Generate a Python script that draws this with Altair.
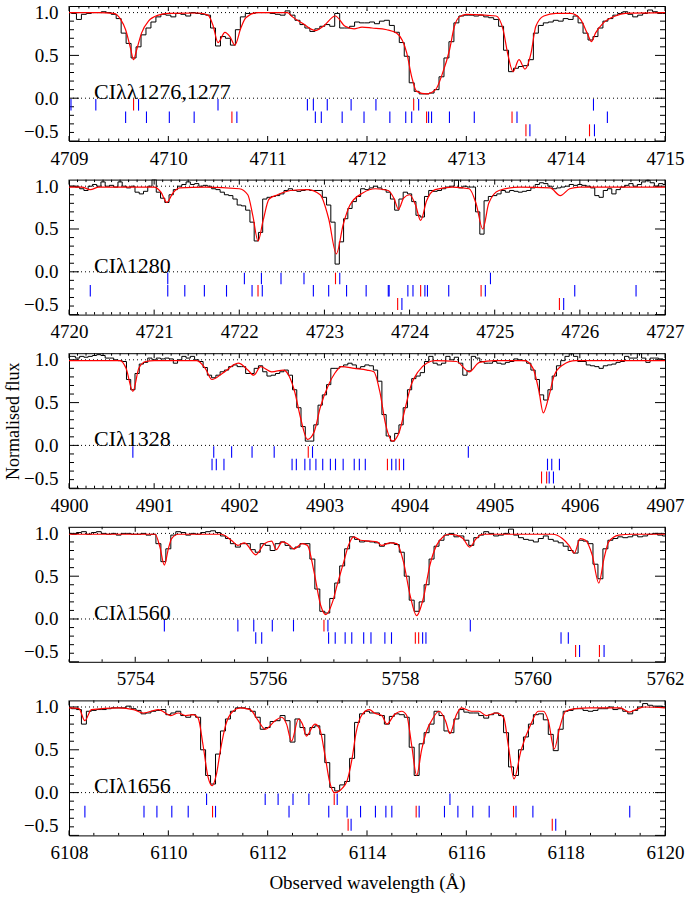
import altair as alt
import numpy as np
import pandas as pd

FONT = "Liberation Serif"
W, H = 596, 135
Y_DOMAIN = [-0.5, 1.077]
ROW_TOP = [-0.01, -0.155, -0.305]
ROW_BOT = [-0.145, -0.29, -0.445]
Y_LABELS = [-0.5, 0.0, 0.5, 1.0]

# ---------------- Panel 1 : CI 1276,1277 ----------------
P1_RANGE = [4709, 4715]
P1_LABEL = "CIλλ1276,1277"
P1_XLABELS = [4709, 4710, 4711, 4712, 4713, 4714, 4715]
P1_FLUX = [
    1.00, 0.99, 0.92, 0.98, 0.99, 1.00, 1.00, 1.01, 1.00, 0.98, 0.93, 0.76, 0.64, 0.47, 0.60, 0.74, 0.82, 0.89, 0.95, 0.98,
    0.97, 0.95, 0.99, 0.98, 0.96, 1.00, 0.99, 0.98, 0.97, 0.82, 0.61, 0.72, 0.70, 0.62, 0.80, 0.95, 0.99, 0.99, 1.00, 1.00,
    1.00, 0.99, 0.98, 0.97, 1.02, 0.97, 0.91, 0.86, 0.82, 0.78, 0.81, 0.84, 0.86, 0.84, 0.99, 0.82, 0.82, 0.84, 0.89, 0.88,
    0.88, 0.89, 0.87, 0.90, 0.91, 0.85, 0.77, 0.65, 0.49, 0.18, 0.08, 0.05, 0.05, 0.06, 0.10, 0.25, 0.47, 0.66, 0.88, 0.96,
    0.97, 0.97, 0.96, 0.97, 0.95, 0.94, 0.92, 0.84, 0.56, 0.31, 0.35, 0.37, 0.38, 0.45, 0.76, 0.85, 0.88, 0.89, 0.91, 0.90,
    0.93, 0.92, 0.96, 0.88, 0.76, 0.68, 0.72, 0.82, 0.90, 0.93, 0.97, 0.99, 1.01, 0.98, 0.95, 0.97, 0.99, 1.03, 1.01, 0.99, 0.99,
]
P1_MODEL = [
    (4709.0, 1.0), (4709.3, 1.0), (4709.45, 0.99), (4709.52, 0.92), (4709.57, 0.80), (4709.62, 0.58),
    (4709.65, 0.45), (4709.68, 0.56), (4709.73, 0.76), (4709.8, 0.90), (4709.9, 0.97), (4710.0, 0.99),
    (4710.3, 0.995), (4710.4, 0.97), (4710.45, 0.85), (4710.5, 0.65), (4710.57, 0.77), (4710.62, 0.72),
    (4710.67, 0.62), (4710.73, 0.82), (4710.78, 0.94), (4710.9, 1.0), (4711.2, 1.0), (4711.25, 0.95),
    (4711.35, 0.875), (4711.48, 0.79), (4711.57, 0.85), (4711.68, 0.96), (4711.78, 0.84), (4711.87, 0.81),
    (4711.95, 0.83), (4712.05, 0.82), (4712.2, 0.80), (4712.3, 0.76), (4712.4, 0.53), (4712.45, 0.25),
    (4712.5, 0.08), (4712.6, 0.05), (4712.69, 0.10), (4712.76, 0.29), (4712.83, 0.56), (4712.88, 0.84),
    (4712.93, 0.95), (4713.0, 0.98), (4713.3, 0.96), (4713.37, 0.80), (4713.42, 0.50), (4713.47, 0.31),
    (4713.53, 0.45), (4713.59, 0.34), (4713.65, 0.52), (4713.7, 0.84), (4713.78, 0.96), (4713.9, 0.99),
    (4714.05, 0.99), (4714.15, 0.92), (4714.22, 0.75), (4714.26, 0.66), (4714.3, 0.76), (4714.38, 0.88),
    (4714.5, 0.96), (4714.6, 0.99), (4715.0, 1.0),
]
P1_BLUE = [
    [4709.02, 4709.27, 4709.70, 4710.50, 4711.40, 4711.46, 4711.60, 4711.84, 4712.09, 4712.52, 4714.28],
    [4709.57, 4709.78, 4710.01, 4710.26, 4710.69, 4711.48, 4711.54, 4711.75, 4711.97, 4712.23, 4712.39,
     4712.45, 4712.62, 4712.65, 4712.83, 4713.08, 4713.51, 4714.42],
    [4713.64, 4714.29],
]
P1_RED = [[4709.65, 4712.47], [4710.64, 4712.60, 4713.46], [4713.60, 4714.24]]

# ---------------- Panel 2 : CI 1280 ----------------
P2_RANGE = [4720, 4727]
P2_LABEL = "CIλ1280"
P2_XLABELS = [4720, 4721, 4722, 4723, 4724, 4725, 4726, 4727]
P2_FLUX = [
    1.00, 1.00, 0.99, 0.97, 0.95, 1.00, 1.02, 1.00, 1.05, 1.00, 1.01, 0.99, 1.05, 1.00, 0.98, 1.00, 0.93, 0.91, 0.94, 1.00,
    1.08, 0.93, 0.86, 0.81, 0.90, 0.96, 1.00, 1.02, 1.05, 1.02, 1.03, 1.00, 1.01, 1.00, 0.97, 0.96, 0.93, 0.90, 0.89, 0.85,
    0.78, 0.77, 0.72, 0.58, 0.36, 0.46, 0.85, 0.87, 0.88, 0.89, 0.91, 0.95, 0.97, 0.95, 0.94, 0.95, 0.96, 0.95, 0.95, 0.95,
    0.87, 0.78, 0.58, 0.09, 0.35, 0.62, 0.74, 0.82, 0.88, 0.97, 0.96, 0.98, 1.00, 0.98, 0.96, 0.93, 0.85, 0.72, 0.85, 0.93,
    0.91, 0.82, 0.66, 0.64, 0.88, 0.95, 0.94, 0.95, 0.97, 0.99, 1.00, 1.07, 0.98, 1.00, 0.99, 0.99, 0.70, 0.44, 0.83, 0.88,
    0.89, 0.91, 0.95, 0.93, 0.95, 0.94, 0.93, 0.94, 0.95, 0.98, 1.02, 1.04, 1.03, 1.00, 0.97, 0.98, 0.99, 1.00, 1.02, 1.01,
    1.02, 1.01, 1.00, 0.98, 0.89, 0.87, 0.95, 0.97, 0.91, 0.96, 0.99, 1.01, 1.03, 1.00, 1.02, 1.05, 1.07, 1.04, 1.00, 1.03, 1.02,
]
P2_MODEL = [
    (4720.0, 0.99), (4720.15, 0.99), (4720.25, 0.96), (4720.35, 0.99), (4721.0, 0.99), (4721.08, 0.93),
    (4721.15, 0.81), (4721.22, 0.92), (4721.3, 0.98), (4721.6, 0.99), (4722.0, 0.97), (4722.1, 0.90),
    (4722.16, 0.65), (4722.22, 0.36), (4722.28, 0.60), (4722.35, 0.85), (4722.45, 0.90), (4722.6, 0.95),
    (4722.8, 0.96), (4722.95, 0.90), (4723.05, 0.62), (4723.14, 0.21), (4723.22, 0.55), (4723.3, 0.78),
    (4723.45, 0.92), (4723.6, 0.97), (4723.75, 0.95), (4723.82, 0.85), (4723.87, 0.73), (4723.93, 0.86),
    (4724.0, 0.90), (4724.07, 0.78), (4724.13, 0.60), (4724.2, 0.83), (4724.3, 0.96), (4724.5, 0.99),
    (4724.7, 0.97), (4724.78, 0.80), (4724.86, 0.50), (4724.93, 0.80), (4725.05, 0.95), (4725.3, 0.99),
    (4725.65, 0.98), (4725.77, 0.89), (4725.88, 0.97), (4726.0, 0.99), (4727.0, 0.99),
]
P2_BLUE = [
    [4721.16, 4722.06, 4722.26, 4722.49, 4722.76, 4723.18, 4724.95],
    [4720.25, 4721.16, 4721.36, 4721.59, 4721.85, 4722.15, 4722.27, 4722.87, 4723.05, 4723.26, 4723.49,
     4723.75, 4723.76, 4723.98, 4724.04, 4724.18, 4724.21, 4724.46, 4724.89, 4725.94, 4726.66],
    [4723.91, 4725.81],
]
P2_RED = [[4723.13], [4722.22, 4724.13, 4724.84], [4723.86, 4725.76]]

# ---------------- Panel 3 : CI 1328 ----------------
P3_RANGE = [4900, 4907]
P3_LABEL = "CIλ1328"
P3_XLABELS = [4900, 4901, 4902, 4903, 4904, 4905, 4906, 4907]
P3_FLUX = [
    1.04, 1.04, 1.02, 1.04, 1.03, 1.04, 1.05, 1.06, 1.05, 1.02, 1.02, 1.00, 0.99, 0.98, 0.77, 0.65, 0.84, 0.95, 0.97, 1.02,
    1.00, 1.02, 1.01, 1.02, 1.01, 0.96, 1.00, 1.04, 1.02, 1.04, 1.00, 0.98, 0.91, 0.82, 0.79, 0.82, 0.86, 0.88, 0.92, 0.94,
    0.92, 0.92, 0.84, 0.84, 0.90, 0.93, 0.86, 0.81, 0.82, 0.84, 0.86, 0.88, 0.82, 0.65, 0.44, 0.22, 0.05, 0.05, 0.24, 0.47,
    0.59, 0.71, 0.90, 0.90, 0.92, 0.94, 0.96, 0.94, 0.90, 0.92, 0.94, 0.93, 0.88, 0.75, 0.36, 0.11, 0.05, 0.14, 0.24, 0.44,
    0.65, 0.78, 0.81, 0.85, 0.98, 1.04, 0.96, 0.94, 0.96, 1.04, 1.00, 1.03, 0.96, 0.82, 0.87, 1.04, 1.02, 0.98, 0.96, 0.96,
    0.98, 0.96, 0.95, 0.97, 0.98, 1.01, 1.00, 0.99, 0.96, 0.88, 0.77, 0.59, 0.53, 0.65, 0.81, 0.93, 0.99, 1.04, 1.07, 1.04,
    0.98, 0.98, 0.94, 0.93, 0.92, 0.90, 0.93, 0.94, 0.95, 0.97, 0.98, 1.04, 1.02, 1.02, 1.08, 1.02, 0.97, 1.02, 1.02, 1.01, 1.00,
]
P3_MODEL = [
    (4900.0, 0.99), (4900.6, 0.99), (4900.67, 0.90), (4900.75, 0.63), (4900.82, 0.90), (4900.9, 0.98),
    (4901.0, 0.99), (4901.5, 0.99), (4901.6, 0.90), (4901.68, 0.77), (4901.8, 0.84), (4901.99, 0.96),
    (4902.1, 0.88), (4902.17, 0.82), (4902.25, 0.92), (4902.38, 0.86), (4902.52, 0.88), (4902.58, 0.82),
    (4902.65, 0.63), (4902.72, 0.32), (4902.8, 0.07), (4902.88, 0.16), (4902.95, 0.44), (4903.05, 0.71),
    (4903.12, 0.84), (4903.2, 0.92), (4903.35, 0.90), (4903.5, 0.88), (4903.58, 0.86), (4903.65, 0.63),
    (4903.72, 0.24), (4903.8, 0.05), (4903.88, 0.16), (4903.95, 0.44), (4904.02, 0.71), (4904.1, 0.86),
    (4904.2, 0.96), (4904.3, 0.99), (4904.55, 0.98), (4904.7, 0.86), (4904.82, 0.97), (4905.0, 0.99),
    (4905.35, 0.99), (4905.45, 0.90), (4905.52, 0.63), (4905.57, 0.38), (4905.63, 0.55), (4905.7, 0.82),
    (4905.8, 0.94), (4905.95, 0.99), (4907.0, 0.99),
]
P3_BLUE = [
    [4900.75, 4901.70, 4901.91, 4902.15, 4902.41, 4902.86, 4904.69],
    [4901.68, 4901.73, 4901.82, 4902.62, 4902.67, 4902.77, 4902.83, 4902.90, 4902.98, 4903.07, 4903.13,
     4903.22, 4903.35, 4903.41, 4903.48, 4903.79, 4903.84, 4903.93, 4905.62, 4905.67, 4905.76],
    [4905.64, 4905.69],
]
P3_RED = [[4902.81], [4903.74, 4903.88], [4905.55, 4905.61]]

# ---------------- Panel 4 : CI 1560 ----------------
P4_RANGE = [5753, 5762]
P4_LABEL = "CIλ1560"
P4_XLABELS = [5754, 5756, 5758, 5760, 5762]
P4_FLUX = [
    1.00, 0.99, 1.01, 1.02, 0.99, 1.01, 1.02, 1.00, 0.99, 1.00, 0.98, 1.00, 1.00, 0.99, 0.99, 1.00, 0.98, 0.99,
    0.88, 0.67, 0.82, 0.98, 1.02, 1.01, 0.98, 1.00, 0.99, 1.01, 1.02, 1.03, 1.01, 0.97, 0.94, 0.88, 0.84, 0.88,
    0.88, 0.81, 0.78, 0.88, 0.86, 0.80, 0.88, 0.90, 0.86, 0.82, 0.84, 0.88, 0.88, 0.70, 0.35, 0.09, 0.07, 0.24,
    0.42, 0.62, 0.82, 0.96, 0.93, 0.90, 0.91, 0.90, 0.89, 0.85, 0.88, 0.89, 0.87, 0.78, 0.50, 0.22, 0.09, 0.20,
    0.40, 0.70, 0.85, 0.92, 0.98, 1.00, 0.96, 0.97, 0.92, 0.86, 0.95, 0.98, 1.02, 1.00, 0.97, 0.98, 1.00, 1.05,
    0.98, 0.95, 0.93, 0.92, 0.90, 0.94, 0.97, 0.93, 0.91, 0.89, 0.85, 0.80, 0.77, 0.92, 0.91, 0.88, 0.64, 0.47,
    0.82, 0.92, 0.94, 0.96, 0.95, 0.96, 0.98, 0.96, 0.97, 0.99, 1.00, 0.98, 0.97,
]
P4_MODEL = [
    (5753.0, 0.99), (5754.3, 0.99), (5754.37, 0.85), (5754.44, 0.63), (5754.5, 0.82), (5754.55, 0.94),
    (5754.65, 0.99), (5755.3, 0.99), (5755.45, 0.92), (5755.55, 0.86), (5755.65, 0.89), (5755.82, 0.75),
    (5755.95, 0.88), (5756.06, 0.91), (5756.13, 0.81), (5756.22, 0.90), (5756.3, 0.88), (5756.4, 0.82),
    (5756.52, 0.88), (5756.6, 0.86), (5756.7, 0.55), (5756.8, 0.16), (5756.88, 0.05), (5756.98, 0.20),
    (5757.05, 0.40), (5757.15, 0.67), (5757.22, 0.86), (5757.3, 0.96), (5757.4, 0.92), (5757.55, 0.91),
    (5757.65, 0.90), (5757.72, 0.86), (5757.85, 0.89), (5757.95, 0.88), (5758.05, 0.67), (5758.15, 0.28),
    (5758.25, 0.04), (5758.35, 0.24), (5758.45, 0.63), (5758.55, 0.86), (5758.65, 0.96), (5758.72, 0.99),
    (5758.85, 0.98), (5758.95, 0.94), (5759.05, 0.84), (5759.15, 0.94), (5759.25, 0.99), (5760.3, 0.99),
    (5760.45, 0.94), (5760.55, 0.86), (5760.63, 0.77), (5760.72, 0.94), (5760.8, 0.92), (5760.9, 0.75),
    (5761.0, 0.42), (5761.08, 0.71), (5761.15, 0.90), (5761.3, 0.98), (5761.5, 0.99), (5762.0, 0.99),
]
P4_BLUE = [
    [5754.44, 5755.55, 5755.79, 5756.07, 5756.39, 5756.91, 5759.06],
    [5755.82, 5755.91, 5756.92, 5757.02, 5757.17, 5757.27, 5757.45, 5757.56, 5757.77, 5757.87, 5758.34,
     5758.39, 5760.43, 5760.54],
    [5760.71, 5761.08],
]
P4_RED = [[5756.85], [5758.23, 5758.28], [5760.65, 5761.01]]

# ---------------- Panel 5 : CI 1656 ----------------
P5_RANGE = [6108, 6120]
P5_LABEL = "CIλ1656"
P5_XLABELS = [6108, 6110, 6112, 6114, 6116, 6118, 6120]
P5_FLUX = [
    0.99, 0.98, 0.97, 0.80, 0.95, 0.96, 0.97, 0.97, 0.98, 0.99,
    0.99, 0.99, 1.01, 0.98, 0.96, 0.92, 0.93, 0.95, 0.96, 0.97,
    0.91, 0.93, 0.95, 0.90, 0.88, 0.91, 0.88, 0.50, 0.20, 0.10,
    0.45, 0.72, 0.86, 0.95, 0.99, 0.99, 0.98, 0.95, 0.88, 0.74,
    0.76, 0.83, 0.84, 0.90, 0.84, 0.59, 0.86, 0.76, 0.68, 0.76,
    0.78, 0.68, 0.35, 0.06, 0.02, 0.09, 0.13, 0.40, 0.82, 0.92,
    0.95, 0.93, 0.93, 0.90, 0.80, 0.89, 0.92, 0.91, 0.88, 0.53,
    0.20, 0.57, 0.70, 0.80, 0.95, 0.90, 0.72, 0.70, 0.86, 0.97,
    0.94, 0.93, 0.93, 0.90, 0.87, 0.91, 0.93, 0.90, 0.70, 0.30,
    0.20, 0.50, 0.65, 0.80, 0.91, 0.92, 0.85, 0.68, 0.49, 0.74,
    0.95, 0.96, 0.98, 0.98, 0.96, 0.95, 0.96, 0.98, 0.98, 1.00,
    0.97, 0.98, 0.95, 0.92, 0.96, 1.00, 1.04, 1.02, 1.01, 1.01, 1.00,
]
P5_MODEL = [
    (6108.0, 0.99), (6108.2, 0.98), (6108.32, 0.84), (6108.45, 0.97), (6109.0, 0.99), (6109.3, 0.97),
    (6109.5, 0.93), (6109.8, 0.97), (6110.05, 0.90), (6110.2, 0.93), (6110.35, 0.90), (6110.5, 0.91),
    (6110.6, 0.87), (6110.7, 0.55), (6110.8, 0.18), (6110.88, 0.08), (6110.97, 0.22), (6111.05, 0.50),
    (6111.15, 0.78), (6111.3, 0.95), (6111.45, 0.99), (6111.65, 0.97), (6111.8, 0.85), (6111.95, 0.74),
    (6112.15, 0.84), (6112.28, 0.88), (6112.38, 0.80), (6112.48, 0.60), (6112.62, 0.86), (6112.7, 0.80),
    (6112.78, 0.66), (6112.95, 0.80), (6113.05, 0.74), (6113.15, 0.45), (6113.25, 0.12), (6113.35, 0.00),
    (6113.5, 0.05), (6113.6, 0.14), (6113.7, 0.40), (6113.78, 0.70), (6113.9, 0.91), (6114.05, 0.97),
    (6114.15, 0.93), (6114.3, 0.90), (6114.4, 0.80), (6114.55, 0.91), (6114.7, 0.95), (6114.8, 0.90),
    (6114.9, 0.55), (6115.0, 0.20), (6115.1, 0.50), (6115.2, 0.72), (6115.3, 0.84), (6115.45, 0.95),
    (6115.58, 0.84), (6115.67, 0.69), (6115.8, 0.91), (6115.9, 0.99), (6116.1, 0.95), (6116.25, 0.95),
    (6116.4, 0.90), (6116.6, 0.93), (6116.75, 0.88), (6116.85, 0.53), (6116.96, 0.16), (6117.1, 0.49),
    (6117.3, 0.80), (6117.45, 0.95), (6117.55, 0.95), (6117.65, 0.84), (6117.77, 0.51), (6117.88, 0.76),
    (6118.0, 0.95), (6118.2, 0.98), (6118.5, 0.99), (6119.1, 0.99), (6119.28, 0.94), (6119.45, 0.98),
    (6119.6, 1.0), (6120.0, 0.99),
]
P5_BLUE = [
    [6110.77, 6111.95, 6112.21, 6112.51, 6112.83, 6113.40, 6115.67],
    [6108.32, 6109.51, 6109.77, 6110.07, 6110.40, 6110.95, 6112.43, 6113.23, 6113.60, 6113.87, 6114.17,
     6114.38, 6114.50, 6115.05, 6115.56, 6115.83, 6116.13, 6116.46, 6117.00, 6117.34, 6119.29],
    [6113.68, 6117.80],
]
P5_RED = [[6113.34], [6110.89, 6114.99, 6116.95], [6113.62, 6117.73]]


def build_panel(rng, flux, model, blue, red, label, xlabels, minor_step, ytitle=None, xtitle=None):
    obs = pd.DataFrame({"wl": np.linspace(rng[0], rng[1], len(flux)), "f": flux})
    mod = pd.DataFrame(model, columns=["wl", "f"])
    rows = []
    for col, groups in (("b", blue), ("r", red)):
        for r, lst in enumerate(groups):
            for v in lst:
                rows.append({"wl": v, "y1": ROW_TOP[r], "y2": ROW_BOT[r], "c": col})
    comp = pd.DataFrame(rows)

    xs = alt.Scale(domain=rng, nice=False, zero=False)
    ys = alt.Scale(domain=Y_DOMAIN, nice=False, zero=False)
    xkw = dict(values=xlabels, format="d", labelFont=FONT, labelFontSize=19, labelColor="black",
               ticks=False, tickSize=0, domain=False, grid=False, labelFlush=False,
               labelOverlap=False, labelPadding=8)
    if xtitle:
        xkw.update(title=xtitle, titleFont=FONT, titleFontSize=19, titleFontWeight="normal",
                   titleColor="black", titlePadding=11)
    else:
        xkw["title"] = None
    ykw = dict(values=Y_LABELS, format=".1f", labelFont=FONT, labelFontSize=19, labelColor="black",
               ticks=False, tickSize=0, domain=False, grid=False, labelFlush=True,
               labelOverlap=False, labelPadding=11)
    if ytitle:
        ykw.update(title=ytitle, titleFont=FONT, titleFontSize=18, titleFontWeight="normal",
                   titleColor="black", titlePadding=1)
    else:
        ykw["title"] = None
    xaxis = alt.Axis(**xkw)
    yaxis = alt.Axis(**ykw)

    def X(f="wl"):
        return alt.X(f, type="quantitative", scale=xs, axis=xaxis)

    def Y(f="f"):
        return alt.Y(f, type="quantitative", scale=ys, axis=yaxis)

    layers = []
    # y ticks (inward, both sides)
    ymajor = pd.DataFrame({"f": Y_LABELS})
    yminor = pd.DataFrame({"f": [v for v in np.round(np.arange(-0.4, 1.05, 0.1), 2)
                                 if not any(abs(v - m) < 1e-6 for m in Y_LABELS)]})
    for dfv, L in ((ymajor, 10), (yminor, 5)):
        layers.append(alt.Chart(dfv).mark_rule(color="black", strokeWidth=1).encode(
            y=Y(), x=alt.value(0), x2=alt.value(L)))
        layers.append(alt.Chart(dfv).mark_rule(color="black", strokeWidth=1).encode(
            y=Y(), x=alt.value(W - L), x2=alt.value(W)))
    # x ticks (inward, top and bottom)
    allm = np.round(np.arange(rng[0], rng[1] + 1e-6, minor_step), 3)
    xminor = pd.DataFrame({"wl": [v for v in allm if not any(abs(v - m) < 1e-6 for m in xlabels)]})
    xmajor = pd.DataFrame({"wl": xlabels})
    for dfv, L in ((xmajor, 5), (xminor, 2.5)):
        layers.append(alt.Chart(dfv).mark_rule(color="black", strokeWidth=1).encode(
            x=X(), y=alt.value(H - L), y2=alt.value(H)))
        layers.append(alt.Chart(dfv).mark_rule(color="black", strokeWidth=1).encode(
            x=X(), y=alt.value(0), y2=alt.value(L)))
    # dotted continuum and zero levels
    layers.append(alt.Chart(pd.DataFrame({"f": [0.0, 1.0]})).mark_rule(
        color="black", strokeWidth=1, strokeDash=[1, 3]).encode(y=Y(), x=alt.value(0), x2=alt.value(W)))
    # component tick marks
    layers.append(alt.Chart(comp).mark_rule(strokeWidth=1.1).encode(
        x=X(), y=Y("y1"), y2=alt.Y2("y2"),
        color=alt.Color("c:N", scale=alt.Scale(domain=["b", "r"], range=["#0000ff", "#ff0000"]), legend=None)))
    # observed spectrum
    layers.append(alt.Chart(obs).mark_line(interpolate="step", color="black", strokeWidth=1, clip=True).encode(
        x=X(), y=Y()))
    # model
    layers.append(alt.Chart(mod).mark_line(interpolate="monotone", color="#ff0000", strokeWidth=1.2, clip=True).encode(
        x=X(), y=Y()))
    # label
    layers.append(alt.Chart(pd.DataFrame({"t": [label]})).mark_text(
        font=FONT, fontSize=22, align="left", baseline="alphabetic", color="black").encode(
        text="t:N", x=alt.value(25), y=alt.value(93)))
    return alt.layer(*layers).properties(width=W, height=H)


panels = [
    build_panel(P1_RANGE, P1_FLUX, P1_MODEL, P1_BLUE, P1_RED, P1_LABEL, P1_XLABELS, 0.1),
    build_panel(P2_RANGE, P2_FLUX, P2_MODEL, P2_BLUE, P2_RED, P2_LABEL, P2_XLABELS, 0.1),
    build_panel(P3_RANGE, P3_FLUX, P3_MODEL, P3_BLUE, P3_RED, P3_LABEL, P3_XLABELS, 0.1,
                ytitle="Normalised flux"),
    build_panel(P4_RANGE, P4_FLUX, P4_MODEL, P4_BLUE, P4_RED, P4_LABEL, P4_XLABELS, 0.5),
    build_panel(P5_RANGE, P5_FLUX, P5_MODEL, P5_BLUE, P5_RED, P5_LABEL, P5_XLABELS, 0.5,
                xtitle="Observed wavelength (Å)"),
]

chart = alt.vconcat(*panels, spacing=38.6, bounds="flush").properties(
    padding={"left": 4, "top": 3, "right": 3, "bottom": 5},
    background="white",
).configure_view(stroke="black", strokeWidth=1)

chart.save("out.html", embed_options={"renderer": "svg", "actions": False})
